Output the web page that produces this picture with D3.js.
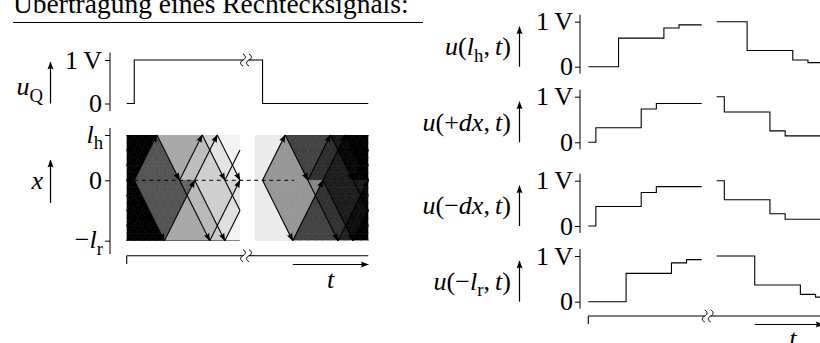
<!DOCTYPE html>
<html>
<head>
<meta charset="utf-8">
<script src="https://cdn.jsdelivr.net/npm/d3@7"></script>
<style>
  body { margin: 0; background: #fff; }
  svg { display: block; }
  text { font-family: "Liberation Serif", "DejaVu Serif", serif; fill: #000; }
</style>
</head>
<body>
<svg id="chart" width="820" height="343"></svg>
<script>
// time is counted in travel-time units, t = 0 is the source edge
// (rising edge in the first half, falling edge in the second half)
const tDomain = [-1, 14];
const lineEnds = [-4, 3];   // -l_r ... l_h

// source voltage u_Q
const sourceRise = [[-1, 0], [0, 1], [14, 1]];
const sourceFall = [[-1, 1], [0, 0], [14, 0]];

// line voltages
const lhRise = [[-1, 0], [3, 0.635], [9, 0.86], [11, 0.93], [14, 0.93]];
const lhFall = [[-1, 1], [3, 0.36], [9, 0.15], [11, 0.09], [14, 0.09]];
const plusDxRise = [[-1, 0], [0, 0.32], [6, 0.73], [8, 0.85], [14, 0.85]];
const plusDxFall = [[-1, 1], [0, 0.665], [6, 0.25], [8, 0.14], [14, 0.14]];
const minusDxRise = [[-1, 0], [0, 0.43], [6, 0.74], [8, 0.87], [14, 0.87]];
const minusDxFall = [[-1, 1], [0, 0.58], [6, 0.27], [8, 0.15], [14, 0.15]];
const lrRise = [[-1, 0], [4, 0.62], [10, 0.85], [12, 0.92], [14, 0.92]];
const lrFall = [[-1, 1], [4, 0.365], [10, 0.16], [12, 0.10], [14, 0.10]];

// travelling waves of the x-t diagram: [t0, x0, t1, x1, voltage step]
const waves = [
  [0, 0, 3, 3, 0.33],
  [0, 0, 4, -4, 0.33],
  [3, 3, 6, 0, 0.33],
  [4, -4, 8, 0, 0.33],
  [6, 0, 10, -4, 0.066],
  [6, 0, 9, 3, 0.083],
  [8, 0, 11, 3, 0.066],
  [8, 0, 12, -4, 0.083],
  [9, 3, 12, 0, 0.083],
  [10, -4, 14, 0, 0.066],
  [11, 3, 14, 0, 0.066],
  [12, -4, 16, 0, 0.083],
  [12, 0, 16, -4, 0.017],
  [12, 0, 15, 3, 0.021]
];
const fallBase = 0.92;   // grey level before the falling edge

const svg = d3.select('#chart');
const defs = svg.append('defs');
defs.append('marker')
    .attr('id', 'head')
    .attr('viewBox', '-8 -4 9 8')
    .attr('refX', 0).attr('refY', 0)
    .attr('markerWidth', 9).attr('markerHeight', 8)
    .attr('markerUnits', 'userSpaceOnUse')
    .attr('orient', 'auto')
  .append('path')
    .attr('d', 'M0.5,0 L-7.5,-3 Q-5.5,0 -7.5,3 Z')
    .attr('fill', '#000');

const FS = 26;

// text with italic parts and subscripts
function mathText(g, x, y, parts, anchor, size) {
  size = size || FS;
  const t = g.append('text')
      .attr('x', x).attr('y', y)
      .attr('text-anchor', anchor || 'start')
      .attr('font-size', size);
  let shift = 0;
  parts.forEach(p => {
    const s = t.append('tspan').text(p.t);
    if (p.i) s.attr('font-style', 'italic');
    const want = p.sub ? size * 0.25 : 0;
    if (want !== shift) { s.attr('dy', want - shift); shift = want; }
    if (p.sub) s.attr('font-size', size * 0.72);
  });
  return t;
}

function squiggle(g, x, y) {
  g.append('path')
      .attr('d', `M${x},${y - 6} C${x + 3.2},${y - 4.5} ${x + 3.2},${y - 1.5} ${x},${y} C${x - 3.2},${y + 1.5} ${x - 3.2},${y + 4.5} ${x},${y + 6}`)
      .attr('fill', 'none').attr('stroke', '#000').attr('stroke-width', 1);
}

// axis break between the two halves
function brk(g, x0, x1, y) {
  g.append('line').attr('x1', x0).attr('x2', x0 + 3).attr('y1', y).attr('y2', y)
      .attr('stroke', '#000').attr('stroke-width', 1.1);
  squiggle(g, x0 + 3, y);
  squiggle(g, x0 + 9, y);
  g.append('line').attr('x1', x0 + 9).attr('x2', x1).attr('y1', y).attr('y2', y)
      .attr('stroke', '#000').attr('stroke-width', 1.1);
}

function upArrow(g, x, y0, y1) {
  g.append('line').attr('x1', x).attr('x2', x).attr('y1', y0).attr('y2', y1)
      .attr('stroke', '#000').attr('stroke-width', 1.2)
      .attr('marker-end', 'url(#head)');
}

// title
svg.append('text')
    .attr('x', 13).attr('y', 13)
    .attr('font-size', 27.5)
    .text('Übertragung eines Rechtecksignals:');
svg.append('line')
    .attr('x1', 13).attr('x2', 423).attr('y1', 22.5).attr('y2', 22.5)
    .attr('stroke', '#000').attr('stroke-width', 1);

// ---------- left side ----------
const xL1 = d3.scaleLinear().domain(tDomain).range([126.7, 240]);
const xL2 = d3.scaleLinear().domain(tDomain).range([255, 368.3]);
const yQ = d3.scaleLinear().domain([0, 1]).range([103.5, 60]);
const yX = d3.scaleLinear().domain(lineEnds).range([240.7, 135]);

const left = svg.append('g');

// u_Q plot
const yAxisQ = d3.axisLeft(yQ).tickValues([0, 1]).tickSize(5).tickFormat('');
left.append('g').attr('transform', 'translate(110,0)').call(yAxisQ)
    .call(g => g.select('.domain').attr('d', 'M0,52.5V111'))
    .selectAll('line, path').attr('stroke', '#000');
mathText(left, 102, yQ(1) + 8.5, [{t: '1\u2009V'}], 'end');
mathText(left, 102, yQ(0) + 8.5, [{t: '0'}], 'end');
mathText(left, 43, 95, [{t: 'u', i: true}, {t: 'Q', sub: true}], 'end');
upArrow(left, 50.5, 103.5, 62);

const stepQ1 = d3.line().x(d => xL1(d[0])).y(d => yQ(d[1])).curve(d3.curveStepAfter);
const stepQ2 = d3.line().x(d => xL2(d[0])).y(d => yQ(d[1])).curve(d3.curveStepAfter);
left.append('path').attr('d', stepQ1(sourceRise))
    .attr('fill', 'none').attr('stroke', '#000').attr('stroke-width', 1.1);
brk(left, xL1(14), xL2(-1), yQ(1));
left.append('path').attr('d', stepQ2(sourceFall))
    .attr('fill', 'none').attr('stroke', '#000').attr('stroke-width', 1.1);

// x-t diagram axis
const yAxisX = d3.axisLeft(yX).tickValues([-4, 0, 3]).tickSize(5).tickFormat('');
left.append('g').attr('transform', 'translate(110,0)').call(yAxisX)
    .call(g => g.select('.domain').attr('d', 'M0,128V254'))
    .selectAll('line, path').attr('stroke', '#000');
mathText(left, 103, yX(3) + 7.5, [{t: 'l', i: true}, {t: 'h', sub: true}], 'end');
mathText(left, 102, yX(0) + 8.5, [{t: '0'}], 'end');
mathText(left, 103, yX(-4) + 7.5, [{t: '\u2212'}, {t: 'l', i: true}, {t: 'r', sub: true}], 'end');
mathText(left, 43, 189, [{t: 'x', i: true}], 'end');
upArrow(left, 50.5, 203, 160);

const gray = d3.scaleLinear().domain([0, 1]).range(['#000', '#fff']).clamp(true);

function field(t, x) {
  let u = 0;
  waves.forEach(([t0, x0, t1, x1, a]) => {
    if (x < Math.min(x0, x1) || x > Math.max(x0, x1)) return;
    if (t >= t0 + Math.abs(x - x0)) u += a;
  });
  return u;
}

function drawDiagram(xs, id, base, sign) {
  defs.append('clipPath').attr('id', id)
    .append('rect')
      .attr('x', xs(tDomain[0])).attr('y', yX(lineEnds[1]))
      .attr('width', xs(tDomain[1]) - xs(tDomain[0]))
      .attr('height', yX(lineEnds[0]) - yX(lineEnds[1]));

  // cells of the characteristic grid (x +/- t = integer), split at their middle
  const cells = [];
  for (let tc = tDomain[0] - 0.5; tc <= tDomain[1] + 0.5; tc += 0.5) {
    for (let xc = lineEnds[0] - 0.5; xc <= lineEnds[1] + 0.5; xc += 0.5) {
      const frac = (((tc + xc) % 1) + 1) % 1;
      if (Math.abs(frac - 0.5) > 1e-9) continue;
      [1, -1].forEach(s => {
        cells.push({
          pts: [[tc - 0.5, xc], [tc, xc + 0.5 * s], [tc + 0.5, xc]],
          v: base + sign * field(tc, xc + s / 6)
        });
      });
    }
  }
  const g = svg.append('g');
  g.append('g').attr('clip-path', `url(#${id})`)
    .selectAll('path').data(cells).join('path')
      .attr('d', d => 'M' + d.pts.map(p => xs(p[0]) + ',' + yX(p[1])).join('L') + 'Z')
      .attr('fill', d => gray(d.v))
      .attr('stroke', d => gray(d.v))
      .attr('stroke-width', 0.6);
  return g;
}

function drawWaves(g, xs) {
  waves.forEach(([t0, x0, t1, x1]) => {
    let te = t1, xe = x1, head = true;
    if (t1 > tDomain[1]) {
      te = tDomain[1];
      xe = x0 + (x1 - x0) * (te - t0) / (t1 - t0);
      head = false;
    }
    g.append('line')
        .attr('x1', xs(t0)).attr('y1', yX(x0))
        .attr('x2', xs(te)).attr('y2', yX(xe))
        .attr('stroke', '#000').attr('stroke-width', 1.1)
        .attr('marker-end', head ? 'url(#head)' : null);
  });
}

const dRise = drawDiagram(xL1, 'clipRise', 0, 1);
const dFall = drawDiagram(xL2, 'clipFall', fallBase, -1);

// dashed line at x = 0
svg.append('line')
    .attr('x1', xL1(-1)).attr('x2', xL2(4.2))
    .attr('y1', yX(0)).attr('y2', yX(0))
    .attr('stroke', '#000').attr('stroke-width', 1)
    .attr('stroke-dasharray', '4,3.5');

drawWaves(dRise, xL1);
drawWaves(dFall, xL2);

// time axis of the left side
const tAxisL = svg.append('g');
tAxisL.append('line').attr('x1', xL1(-1)).attr('x2', xL1(-1)).attr('y1', 255.7).attr('y2', 264)
    .attr('stroke', '#000').attr('stroke-width', 1.1);
tAxisL.append('line').attr('x1', xL1(-1)).attr('x2', xL1(14)).attr('y1', 255.7).attr('y2', 255.7)
    .attr('stroke', '#000').attr('stroke-width', 1.1);
brk(tAxisL, xL1(14), xL2(-1), 255.7);
tAxisL.append('line').attr('x1', xL2(-1)).attr('x2', xL2(14)).attr('y1', 255.7).attr('y2', 255.7)
    .attr('stroke', '#000').attr('stroke-width', 1.1);
tAxisL.append('line').attr('x1', xL2(4)).attr('x2', xL2(14)).attr('y1', 264.5).attr('y2', 264.5)
    .attr('stroke', '#000').attr('stroke-width', 1.2).attr('marker-end', 'url(#head)');
mathText(tAxisL, (xL2(4) + xL2(14)) / 2, 288, [{t: 't', i: true}], 'middle');

// ---------- right side ----------
const xR1 = d3.scaleLinear().domain(tDomain).range([588.3, 701.7]);
const xR2 = d3.scaleLinear().domain(tDomain).range([716.7, 830.8]);

const panels = [
  {y1: 21.7, y0: 66.7, rise: lhRise, fall: lhFall,
   label: [{t: 'u', i: true}, {t: '('}, {t: 'l', i: true}, {t: 'h', sub: true}, {t: ',\u2009'}, {t: 't', i: true}, {t: ')'}]},
  {y1: 96.7, y0: 142.3, rise: plusDxRise, fall: plusDxFall,
   label: [{t: 'u', i: true}, {t: '(+'}, {t: 'dx', i: true}, {t: ',\u2009'}, {t: 't', i: true}, {t: ')'}]},
  {y1: 180.7, y0: 226, rise: minusDxRise, fall: minusDxFall,
   label: [{t: 'u', i: true}, {t: '(\u2212'}, {t: 'dx', i: true}, {t: ',\u2009'}, {t: 't', i: true}, {t: ')'}]},
  {y1: 256, y0: 301.7, rise: lrRise, fall: lrFall,
   label: [{t: 'u', i: true}, {t: '(\u2212'}, {t: 'l', i: true}, {t: 'r', sub: true}, {t: ',\u2009'}, {t: 't', i: true}, {t: ')'}]}
];

panels.forEach(p => {
  const g = svg.append('g');
  const y = d3.scaleLinear().domain([0, 1]).range([p.y0, p.y1]);
  g.append('g').attr('transform', 'translate(580,0)')
      .call(d3.axisLeft(y).tickValues([0, 1]).tickSize(5).tickFormat(''))
      .call(a => a.select('.domain').attr('d', `M0,${p.y1 - 7}V${p.y0 + 7}`))
      .selectAll('line, path').attr('stroke', '#000');
  mathText(g, 573, y(1) + 8.5, [{t: '1\u2009V'}], 'end');
  mathText(g, 573, y(0) + 8.5, [{t: '0'}], 'end');
  mathText(g, 511, (p.y0 + p.y1) / 2 + 11, p.label, 'end');
  upArrow(g, 519.5, p.y0, p.y1 + 5);

  const s1 = d3.line().x(d => xR1(d[0])).y(d => y(d[1])).curve(d3.curveStepAfter);
  const s2 = d3.line().x(d => xR2(d[0])).y(d => y(d[1])).curve(d3.curveStepAfter);
  g.append('path').attr('d', s1(p.rise)).attr('fill', 'none').attr('stroke', '#000').attr('stroke-width', 1.1);
  g.append('path').attr('d', s2(p.fall)).attr('fill', 'none').attr('stroke', '#000').attr('stroke-width', 1.1);
});

const tAxisR = svg.append('g');
tAxisR.append('line').attr('x1', xR1(-1)).attr('x2', xR1(-1)).attr('y1', 316).attr('y2', 324)
    .attr('stroke', '#000').attr('stroke-width', 1.1);
tAxisR.append('line').attr('x1', xR1(-1)).attr('x2', xR1(14)).attr('y1', 316).attr('y2', 316)
    .attr('stroke', '#000').attr('stroke-width', 1.1);
brk(tAxisR, xR1(14), xR2(-1), 316);
tAxisR.append('line').attr('x1', xR2(-1)).attr('x2', xR2(14)).attr('y1', 316).attr('y2', 316)
    .attr('stroke', '#000').attr('stroke-width', 1.1);
tAxisR.append('line').attr('x1', xR2(4)).attr('x2', xR2(13)).attr('y1', 324.5).attr('y2', 324.5)
    .attr('stroke', '#000').attr('stroke-width', 1.2).attr('marker-end', 'url(#head)');
mathText(tAxisR, (xR2(4) + xR2(14)) / 2, 347, [{t: 't', i: true}], 'middle');
</script>
</body>
</html>
